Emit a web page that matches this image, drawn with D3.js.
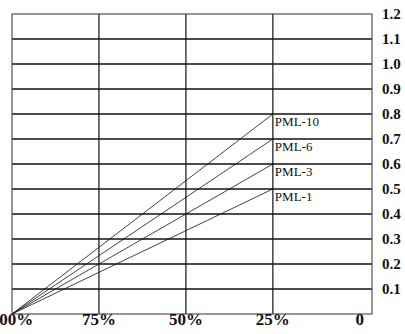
<!DOCTYPE html>
<html>
<head>
<meta charset="utf-8">
<script src="https://cdn.jsdelivr.net/npm/d3@7"></script>
<style>
  body { margin: 0; background: #fff; }
  svg { display: block; }
  .tick-label { font-family: "Liberation Serif", "Times New Roman", serif; font-weight: bold; fill: #111; }
  .series-label { font-family: "Liberation Serif", "Times New Roman", serif; fill: #111; }
</style>
</head>
<body>
<div id="chart"></div>
<script>
  // share of range (percent) on the x axis, reversed: 100% on the left, 0 on the right
  const xTicks = [100, 75, 50, 25, 0];
  const xTickLabels = ["100%", "75%", "50%", "25%", "0"];
  const yTicks = [0.1, 0.2, 0.3, 0.4, 0.5, 0.6, 0.7, 0.8, 0.9, 1.0, 1.1, 1.2];

  const seriesNames = ["PML-1", "PML-3", "PML-6", "PML-10"];
  const startPct = [100, 100, 100, 100];
  const startValues = [0, 0, 0, 0];
  const endPct = [25, 25, 25, 25];
  const endValues = [0.5, 0.6, 0.7, 0.8];

  const width = 405;
  const height = 334;

  const svg = d3.select("#chart").append("svg")
    .attr("width", width)
    .attr("height", height);

  const x = d3.scaleLinear()
    .domain([100, -3.5])
    .range([12, 372]);

  const y = d3.scaleLinear()
    .domain([0, 1.2])
    .range([314, 14]);

  // horizontal grid
  svg.append("g")
    .selectAll("line")
    .data(yTicks.slice(0, -1))
    .join("line")
      .attr("x1", x(100))
      .attr("x2", x.range()[1])
      .attr("y1", d => y(d))
      .attr("y2", d => y(d))
      .attr("stroke", "#111")
      .attr("stroke-width", 1.6);

  // vertical grid
  svg.append("g")
    .selectAll("line")
    .data([75, 50, 25])
    .join("line")
      .attr("x1", d => x(d))
      .attr("x2", d => x(d))
      .attr("y1", y(0))
      .attr("y2", y(1.2))
      .attr("stroke", "#111")
      .attr("stroke-width", 1.2);

  // frame
  svg.append("rect")
    .attr("x", x(100))
    .attr("y", y(1.2))
    .attr("width", x.range()[1] - x(100))
    .attr("height", y(0) - y(1.2))
    .attr("fill", "none")
    .attr("stroke", "#444")
    .attr("stroke-width", 1.1);

  // series lines
  const line = d3.line()
    .x(d => x(d[0]))
    .y(d => y(d[1]));

  seriesNames.forEach(function (name, i) {
    const pts = [[startPct[i], startValues[i]], [endPct[i], endValues[i]]];
    svg.append("path")
      .attr("d", line(pts))
      .attr("fill", "none")
      .attr("stroke", "#111")
      .attr("stroke-width", 0.8);

    svg.append("text")
      .attr("class", "series-label")
      .attr("x", x(endPct[i]) + 2)
      .attr("y", y(endValues[i]) + 12)
      .attr("font-size", 13)
      .text(name);
  });

  // y labels on the right
  svg.append("g")
    .selectAll("text")
    .data(yTicks)
    .join("text")
      .attr("class", "tick-label")
      .attr("x", 382)
      .attr("y", d => y(d))
      .attr("dy", "0.36em")
      .attr("font-size", 15)
      .text(d => d.toFixed(1));

  // x labels
  svg.append("g")
    .selectAll("text")
    .data(xTicks)
    .join("text")
      .attr("class", "tick-label")
      .attr("x", d => x(d))
      .attr("y", 325)
      .attr("text-anchor", "middle")
      .attr("font-size", 17)
      .text((d, i) => xTickLabels[i]);
</script>
</body>
</html>
